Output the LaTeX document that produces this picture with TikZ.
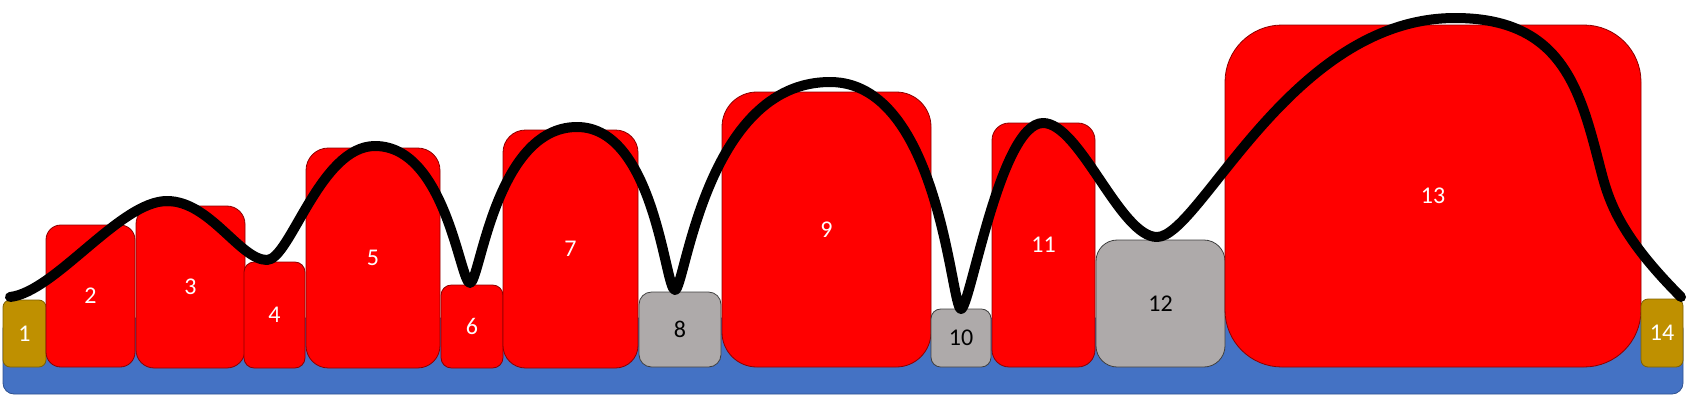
\documentclass[tikz,border=0pt]{standalone}
\usepackage{fontspec}
\setmainfont{Carlito}
\definecolor{basefill}{HTML}{4472C4}
\definecolor{baseline}{HTML}{2F528F}
\definecolor{goldfill}{HTML}{BF9000}
\definecolor{goldline}{HTML}{7F6000}
\definecolor{greyfill}{HTML}{AEAAAA}
\definecolor{greyline}{HTML}{404040}
\definecolor{redfill}{HTML}{FF0000}
\definecolor{redline}{HTML}{8B0000}
\newcommand\blk[7]{%
  \pgfmathsetmacro\bw{#4-#2}%
  \pgfmathsetmacro\bh{#5-#3}%
  \pgfmathsetmacro\br{min(\bw,\bh)/6}%
  \node[#6, minimum width=\bw pt, minimum height=\bh pt, rounded corners=\br pt] (#1) at (#2,#3) {#7};}
\tikzset{
  box/.style={draw, line width=0.8pt, inner sep=0pt, outer sep=0pt, anchor=north west,
    font=\fontsize{24}{28}\selectfont},
  redbox/.style={box, fill=redfill, draw=redline, text=white},
  greybox/.style={box, fill=greyfill, draw=greyline, text=black},
  goldbox/.style={box, fill=goldfill, draw=goldline, text=white},
  basebox/.style={box, fill=basefill, draw=baseline},
  curve/.style={draw=black, line width=10pt, line cap=round, line join=round}
}
\begin{document}
\begin{tikzpicture}[x=1pt,y=-1pt]
\useasboundingbox (0,0) rectangle (1690,400);
\node[basebox, minimum width=1680pt, minimum height=76pt, rounded corners=11pt] (base) at (3,318) {};
\blk{b1}{3}{300}{46}{367}{goldbox}{1}
\blk{b2}{46}{225}{135}{367}{redbox}{2}
\blk{b3}{136}{206}{245}{368}{redbox}{3}
\blk{b4}{244}{262}{305}{368}{redbox}{4}
\blk{b5}{306}{148}{440}{368}{redbox}{5}
\blk{b6}{441}{285}{503}{368}{redbox}{6}
\blk{b7}{503}{130}{638}{368}{redbox}{7}
\blk{b8}{639}{292}{721}{367}{greybox}{8}
\blk{b9}{722}{92}{931}{367}{redbox}{9}
\blk{b10}{931}{309}{991}{367}{greybox}{10}
\blk{b11}{992}{123}{1095}{367}{redbox}{11}
\blk{b12}{1096}{240}{1225}{367}{greybox}{12}
\blk{b13}{1225}{25}{1641}{367}{redbox}{13}
\blk{b14}{1641}{299}{1683}{367}{goldbox}{14}
\draw[curve] (10,297) .. controls (55,292) and (120,201) .. (167,201)
 .. controls (210,201) and (240,260) .. (267,260)
 .. controls (290,260) and (320,146) .. (375,146)
 .. controls (446,146) and (460,283) .. (470,283)
 .. controls (480,283) and (495,127) .. (577,127)
 .. controls (655,127) and (665,290) .. (675,290)
 .. controls (685,290) and (705,82) .. (830,82)
 .. controls (940,82) and (951,309) .. (961,309)
 .. controls (970,309) and (1000,123) .. (1043,123)
 .. controls (1080,123) and (1120,237) .. (1157,237)
 .. controls (1200,237) and (1290,18) .. (1455,18)
 .. controls (1562,18) and (1580,89) .. (1600,167)
 .. controls (1608,198) and (1617,233) .. (1681,297);
\end{tikzpicture}
\end{document}
